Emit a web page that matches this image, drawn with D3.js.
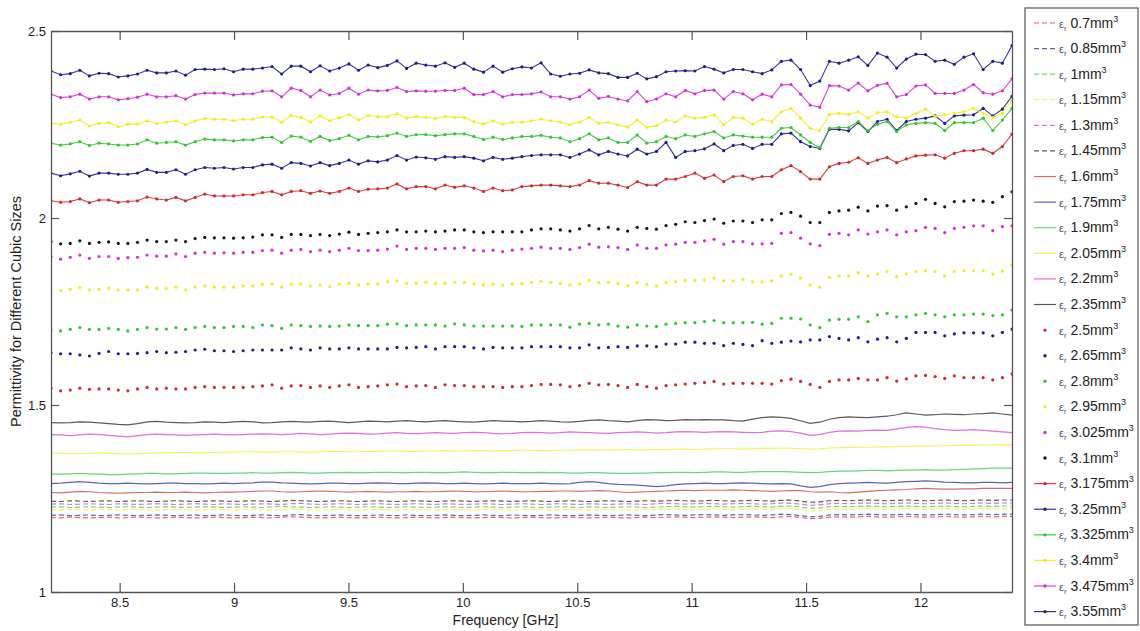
<!DOCTYPE html>
<html>
<head>
<meta charset="utf-8">
<script src="https://cdn.jsdelivr.net/npm/d3@7"></script>
<style>
  body { margin: 0; background: #fff; }
  svg { font-family: Arial, "Liberation Sans", sans-serif; }
</style>
</head>
<body>
<div id="chart"></div>
<script>
// frequency grid (101 points over the X band) and axis ticks
const freq = d3.range(101).map(i => 8.2 + i * 0.042);
const xTicks = [8.5, 9, 9.5, 10, 10.5, 11, 11.5, 12];
const yTicks = [1, 1.5, 2, 2.5];

// cube sizes, in legend order
const sizes = ['0.7','0.85','1','1.15','1.3','1.45','1.6','1.75','1.9','2.05','2.2','2.35',
               '2.5','2.65','2.8','2.95','3.025','3.1','3.175','3.25','3.325','3.4','3.475','3.55'];

// dashed lines
const er_0_7 = [
1.199,1.198,1.200,1.199,1.198,1.199,1.200,1.198,1.199,1.200,
1.199,1.198,1.199,1.200,1.199,1.198,1.199,1.200,1.199,1.198,
1.199,1.200,1.199,1.198,1.200,1.201,1.200,1.199,1.198,1.199,
1.200,1.199,1.198,1.199,1.200,1.199,1.198,1.199,1.200,1.199,
1.198,1.199,1.200,1.199,1.198,1.199,1.200,1.199,1.198,1.199,
1.200,1.199,1.198,1.199,1.200,1.199,1.198,1.199,1.200,1.199,
1.198,1.199,1.200,1.199,1.200,1.201,1.200,1.199,1.200,1.201,
1.200,1.199,1.200,1.201,1.200,1.199,1.201,1.202,1.199,1.196,
1.197,1.200,1.201,1.200,1.201,1.202,1.201,1.200,1.201,1.202,
1.201,1.200,1.201,1.202,1.201,1.200,1.201,1.202,1.201,1.202,
1.202];
const er_0_85 = [
1.205,1.206,1.204,1.205,1.206,1.204,1.205,1.206,1.205,1.204,
1.205,1.206,1.205,1.204,1.205,1.206,1.204,1.205,1.206,1.205,
1.204,1.205,1.206,1.205,1.204,1.206,1.207,1.205,1.204,1.205,
1.206,1.205,1.204,1.205,1.206,1.205,1.204,1.206,1.205,1.204,
1.205,1.206,1.205,1.204,1.205,1.206,1.205,1.204,1.206,1.205,
1.204,1.205,1.206,1.205,1.204,1.205,1.206,1.205,1.204,1.205,
1.206,1.205,1.204,1.206,1.207,1.206,1.205,1.206,1.207,1.206,
1.205,1.206,1.207,1.206,1.205,1.206,1.208,1.207,1.204,1.201,
1.202,1.206,1.207,1.206,1.207,1.208,1.207,1.206,1.207,1.208,
1.207,1.206,1.207,1.208,1.207,1.206,1.207,1.208,1.207,1.208,
1.208];
const er_1 = [
1.227,1.228,1.226,1.227,1.228,1.227,1.226,1.227,1.228,1.227,
1.226,1.227,1.228,1.227,1.226,1.227,1.228,1.227,1.226,1.227,
1.228,1.227,1.226,1.228,1.229,1.228,1.227,1.226,1.227,1.228,
1.227,1.226,1.227,1.228,1.227,1.226,1.227,1.228,1.227,1.226,
1.227,1.228,1.227,1.226,1.227,1.228,1.227,1.226,1.227,1.228,
1.227,1.226,1.227,1.228,1.227,1.226,1.228,1.227,1.226,1.227,
1.228,1.227,1.226,1.227,1.228,1.229,1.228,1.227,1.228,1.229,
1.228,1.227,1.228,1.229,1.228,1.227,1.229,1.230,1.227,1.224,
1.225,1.228,1.229,1.228,1.229,1.230,1.229,1.228,1.229,1.230,
1.229,1.228,1.229,1.230,1.229,1.228,1.229,1.230,1.229,1.230,
1.230];
const er_1_15 = [
1.220,1.219,1.221,1.220,1.219,1.220,1.221,1.219,1.220,1.221,
1.220,1.219,1.220,1.221,1.220,1.219,1.220,1.221,1.220,1.219,
1.220,1.221,1.220,1.219,1.221,1.222,1.221,1.220,1.219,1.220,
1.221,1.220,1.219,1.220,1.221,1.220,1.219,1.220,1.221,1.220,
1.219,1.220,1.221,1.220,1.219,1.220,1.221,1.220,1.219,1.220,
1.221,1.220,1.219,1.220,1.221,1.220,1.219,1.220,1.221,1.220,
1.219,1.220,1.221,1.220,1.221,1.222,1.221,1.220,1.221,1.222,
1.221,1.220,1.221,1.222,1.221,1.220,1.222,1.223,1.220,1.217,
1.218,1.221,1.222,1.221,1.222,1.223,1.222,1.221,1.222,1.223,
1.222,1.221,1.222,1.223,1.222,1.221,1.222,1.223,1.222,1.223,
1.223];
const er_1_3 = [
1.235,1.236,1.234,1.235,1.236,1.235,1.234,1.236,1.235,1.234,
1.235,1.236,1.235,1.234,1.235,1.236,1.235,1.234,1.236,1.235,
1.234,1.235,1.236,1.235,1.234,1.236,1.237,1.235,1.234,1.235,
1.236,1.235,1.234,1.235,1.236,1.235,1.234,1.235,1.236,1.235,
1.234,1.236,1.235,1.234,1.235,1.236,1.235,1.234,1.235,1.236,
1.235,1.234,1.235,1.236,1.235,1.234,1.236,1.235,1.234,1.235,
1.236,1.235,1.234,1.236,1.237,1.236,1.235,1.236,1.237,1.236,
1.235,1.236,1.237,1.236,1.235,1.236,1.238,1.237,1.235,1.232,
1.233,1.236,1.237,1.236,1.237,1.238,1.237,1.236,1.237,1.238,
1.237,1.236,1.237,1.238,1.237,1.236,1.237,1.238,1.237,1.238,
1.238];
const er_1_45 = [
1.243,1.242,1.244,1.243,1.242,1.243,1.244,1.242,1.243,1.244,
1.243,1.242,1.243,1.244,1.243,1.242,1.243,1.244,1.243,1.242,
1.243,1.244,1.243,1.242,1.243,1.245,1.244,1.243,1.242,1.243,
1.244,1.243,1.242,1.243,1.244,1.243,1.242,1.243,1.244,1.243,
1.242,1.243,1.244,1.243,1.242,1.243,1.244,1.243,1.242,1.243,
1.244,1.243,1.242,1.243,1.244,1.243,1.242,1.243,1.244,1.243,
1.242,1.243,1.244,1.243,1.244,1.245,1.244,1.243,1.244,1.245,
1.244,1.243,1.244,1.245,1.244,1.243,1.245,1.246,1.243,1.240,
1.241,1.244,1.245,1.244,1.245,1.246,1.245,1.244,1.245,1.246,
1.245,1.244,1.245,1.246,1.245,1.244,1.245,1.246,1.245,1.246,
1.246];

// solid lines
const er_1_6 = [
1.266,1.265,1.267,1.269,1.268,1.266,1.265,1.264,1.265,1.266,
1.266,1.267,1.266,1.266,1.267,1.266,1.265,1.266,1.267,1.267,
1.268,1.269,1.270,1.270,1.268,1.267,1.268,1.269,1.270,1.269,
1.268,1.267,1.268,1.269,1.268,1.267,1.268,1.268,1.269,1.268,
1.268,1.269,1.270,1.269,1.268,1.268,1.269,1.270,1.269,1.268,
1.268,1.269,1.269,1.270,1.270,1.269,1.270,1.271,1.270,1.268,
1.266,1.267,1.268,1.269,1.270,1.271,1.272,1.271,1.272,1.272,
1.272,1.273,1.272,1.271,1.270,1.269,1.270,1.271,1.271,1.268,
1.267,1.268,1.266,1.265,1.267,1.269,1.271,1.272,1.273,1.274,
1.276,1.277,1.276,1.275,1.275,1.276,1.276,1.277,1.277,1.277,
1.277];
const er_1_75 = [
1.290,1.291,1.293,1.295,1.293,1.291,1.290,1.290,1.291,1.290,
1.289,1.290,1.291,1.291,1.290,1.290,1.289,1.290,1.291,1.290,
1.291,1.292,1.294,1.294,1.292,1.291,1.290,1.289,1.290,1.291,
1.291,1.290,1.290,1.291,1.292,1.291,1.290,1.290,1.291,1.292,
1.291,1.290,1.290,1.291,1.290,1.289,1.290,1.291,1.290,1.290,
1.290,1.291,1.290,1.289,1.290,1.293,1.295,1.293,1.290,1.288,
1.287,1.286,1.284,1.282,1.284,1.287,1.289,1.290,1.291,1.290,
1.290,1.291,1.292,1.291,1.290,1.289,1.290,1.289,1.284,1.280,
1.282,1.287,1.290,1.291,1.292,1.293,1.292,1.291,1.293,1.295,
1.296,1.297,1.296,1.294,1.293,1.292,1.292,1.293,1.293,1.292,
1.293];
const er_1_9 = [
1.315,1.315,1.316,1.317,1.316,1.315,1.314,1.314,1.315,1.316,
1.317,1.317,1.316,1.316,1.317,1.318,1.318,1.317,1.317,1.318,
1.318,1.319,1.318,1.318,1.319,1.320,1.319,1.318,1.318,1.319,
1.319,1.320,1.319,1.319,1.320,1.320,1.319,1.319,1.320,1.320,
1.319,1.319,1.320,1.321,1.320,1.319,1.319,1.320,1.320,1.319,
1.319,1.320,1.319,1.319,1.318,1.318,1.319,1.319,1.318,1.317,
1.317,1.318,1.318,1.319,1.319,1.320,1.320,1.319,1.320,1.321,
1.321,1.320,1.320,1.321,1.322,1.322,1.322,1.321,1.320,1.319,
1.320,1.322,1.323,1.323,1.324,1.325,1.325,1.324,1.325,1.326,
1.326,1.327,1.326,1.326,1.327,1.328,1.329,1.330,1.331,1.331,
1.331];
const er_2_05 = [
1.371,1.371,1.370,1.370,1.371,1.372,1.371,1.370,1.369,1.370,
1.371,1.372,1.372,1.373,1.373,1.372,1.372,1.373,1.374,1.374,
1.375,1.375,1.374,1.374,1.375,1.375,1.374,1.374,1.375,1.376,
1.376,1.375,1.375,1.376,1.376,1.377,1.377,1.376,1.376,1.377,
1.377,1.378,1.377,1.377,1.378,1.378,1.377,1.378,1.378,1.379,
1.379,1.378,1.378,1.379,1.379,1.380,1.380,1.379,1.380,1.380,
1.381,1.380,1.380,1.381,1.381,1.382,1.382,1.381,1.382,1.383,
1.383,1.383,1.382,1.383,1.384,1.384,1.385,1.384,1.383,1.382,
1.383,1.385,1.386,1.386,1.387,1.387,1.388,1.388,1.389,1.389,
1.390,1.390,1.391,1.391,1.392,1.392,1.392,1.393,1.393,1.394,
1.394];
const er_2_2 = [
1.421,1.420,1.418,1.420,1.422,1.421,1.419,1.417,1.415,1.418,
1.421,1.422,1.421,1.420,1.419,1.420,1.421,1.422,1.421,1.420,
1.421,1.422,1.423,1.422,1.421,1.422,1.424,1.423,1.421,1.422,
1.424,1.425,1.424,1.422,1.423,1.425,1.426,1.424,1.423,1.425,
1.426,1.425,1.424,1.426,1.427,1.426,1.424,1.423,1.424,1.426,
1.427,1.426,1.425,1.426,1.428,1.427,1.426,1.425,1.424,1.426,
1.427,1.428,1.427,1.425,1.426,1.428,1.429,1.428,1.427,1.428,
1.429,1.428,1.427,1.426,1.427,1.430,1.431,1.429,1.425,1.419,
1.421,1.427,1.430,1.431,1.430,1.432,1.433,1.432,1.436,1.440,
1.442,1.441,1.437,1.434,1.432,1.433,1.434,1.432,1.430,1.428,
1.426];
const er_2_35 = [
1.453,1.452,1.453,1.455,1.454,1.452,1.450,1.448,1.447,1.450,
1.455,1.456,1.454,1.453,1.452,1.453,1.455,1.454,1.453,1.455,
1.456,1.455,1.452,1.453,1.455,1.456,1.455,1.454,1.456,1.457,
1.455,1.453,1.455,1.457,1.456,1.455,1.457,1.458,1.456,1.455,
1.457,1.458,1.456,1.455,1.454,1.456,1.458,1.457,1.456,1.455,
1.456,1.458,1.457,1.455,1.454,1.456,1.459,1.460,1.458,1.457,
1.455,1.458,1.461,1.460,1.458,1.459,1.461,1.460,1.461,1.460,
1.460,1.458,1.457,1.462,1.466,1.468,1.467,1.464,1.458,1.451,
1.454,1.462,1.466,1.468,1.467,1.466,1.468,1.470,1.474,1.479,
1.476,1.473,1.474,1.476,1.475,1.474,1.476,1.477,1.479,1.476,
1.473];

// point markers only
const er_2_5 = [
1.545,1.538,1.540,1.545,1.542,1.543,1.543,1.540,1.538,1.543,
1.547,1.543,1.545,1.543,1.543,1.547,1.549,1.547,1.547,1.547,
1.547,1.549,1.551,1.554,1.545,1.551,1.552,1.547,1.551,1.547,
1.551,1.554,1.547,1.549,1.551,1.554,1.556,1.549,1.551,1.552,
1.547,1.554,1.552,1.552,1.549,1.549,1.549,1.547,1.549,1.549,
1.552,1.555,1.555,1.554,1.549,1.552,1.558,1.554,1.555,1.552,
1.547,1.555,1.549,1.545,1.552,1.554,1.556,1.558,1.560,1.563,
1.556,1.558,1.558,1.558,1.558,1.556,1.565,1.569,1.563,1.555,
1.547,1.563,1.567,1.567,1.571,1.567,1.567,1.573,1.564,1.570,
1.578,1.579,1.576,1.571,1.578,1.573,1.573,1.573,1.567,1.573,
1.583];
const er_2_65 = [
1.640,1.637,1.637,1.634,1.631,1.638,1.643,1.637,1.637,1.638,
1.640,1.643,1.640,1.641,1.643,1.647,1.649,1.645,1.645,1.643,
1.645,1.647,1.647,1.647,1.647,1.653,1.650,1.647,1.653,1.650,
1.650,1.653,1.650,1.650,1.650,1.650,1.654,1.653,1.654,1.656,
1.650,1.656,1.656,1.656,1.653,1.650,1.654,1.653,1.653,1.653,
1.656,1.656,1.656,1.656,1.653,1.653,1.661,1.653,1.654,1.656,
1.654,1.658,1.658,1.656,1.663,1.663,1.668,1.668,1.665,1.665,
1.659,1.665,1.662,1.659,1.672,1.665,1.668,1.671,1.669,1.674,
1.674,1.683,1.678,1.674,1.680,1.669,1.676,1.680,1.669,1.678,
1.694,1.694,1.694,1.685,1.690,1.693,1.693,1.693,1.685,1.694,
1.703];
const er_2_8 = [
1.701,1.698,1.702,1.707,1.702,1.702,1.705,1.702,1.698,1.702,
1.707,1.703,1.703,1.707,1.702,1.707,1.710,1.707,1.707,1.710,
1.710,1.707,1.714,1.712,1.705,1.714,1.712,1.710,1.711,1.710,
1.711,1.714,1.712,1.712,1.712,1.716,1.717,1.712,1.714,1.714,
1.714,1.711,1.717,1.714,1.711,1.711,1.711,1.711,1.711,1.710,
1.714,1.714,1.714,1.714,1.708,1.716,1.718,1.714,1.716,1.711,
1.708,1.714,1.711,1.710,1.716,1.718,1.720,1.720,1.723,1.726,
1.720,1.720,1.720,1.721,1.716,1.718,1.732,1.732,1.730,1.714,
1.707,1.727,1.729,1.729,1.736,1.723,1.741,1.745,1.736,1.736,
1.741,1.745,1.741,1.736,1.741,1.741,1.743,1.743,1.739,1.741,
1.754];
const er_2_95 = [
1.806,1.806,1.809,1.814,1.808,1.809,1.812,1.808,1.808,1.808,
1.815,1.812,1.812,1.815,1.808,1.815,1.818,1.815,1.815,1.815,
1.818,1.818,1.823,1.823,1.815,1.823,1.823,1.818,1.821,1.816,
1.823,1.825,1.821,1.823,1.824,1.830,1.832,1.825,1.825,1.828,
1.825,1.825,1.828,1.828,1.824,1.821,1.823,1.821,1.823,1.825,
1.828,1.830,1.828,1.825,1.821,1.823,1.833,1.827,1.828,1.825,
1.819,1.827,1.823,1.818,1.827,1.830,1.833,1.833,1.834,1.839,
1.832,1.832,1.836,1.830,1.830,1.832,1.845,1.849,1.839,1.821,
1.815,1.841,1.845,1.845,1.854,1.845,1.850,1.857,1.843,1.850,
1.857,1.859,1.857,1.845,1.857,1.859,1.859,1.859,1.850,1.858,
1.874];
const er_3_025 = [
1.897,1.890,1.895,1.901,1.892,1.897,1.897,1.892,1.894,1.895,
1.901,1.898,1.898,1.904,1.897,1.906,1.908,1.906,1.907,1.906,
1.908,1.908,1.913,1.914,1.906,1.914,1.916,1.910,1.914,1.910,
1.914,1.919,1.913,1.913,1.914,1.917,1.925,1.916,1.919,1.919,
1.916,1.919,1.919,1.921,1.914,1.912,1.914,1.910,1.914,1.917,
1.919,1.922,1.919,1.919,1.916,1.921,1.930,1.922,1.923,1.921,
1.916,1.928,1.919,1.919,1.928,1.930,1.935,1.935,1.939,1.943,
1.930,1.937,1.937,1.931,1.931,1.932,1.959,1.961,1.946,1.931,
1.926,1.956,1.959,1.955,1.968,1.957,1.963,1.968,1.955,1.963,
1.966,1.975,1.972,1.961,1.972,1.975,1.979,1.979,1.966,1.977,
1.979];
const er_3_1 = [
1.937,1.931,1.932,1.939,1.932,1.935,1.936,1.932,1.932,1.935,
1.941,1.937,1.937,1.941,1.937,1.945,1.948,1.947,1.947,1.946,
1.947,1.949,1.955,1.955,1.948,1.956,1.956,1.953,1.956,1.953,
1.957,1.962,1.956,1.959,1.961,1.963,1.968,1.963,1.963,1.965,
1.963,1.965,1.968,1.968,1.963,1.961,1.963,1.963,1.963,1.963,
1.968,1.971,1.971,1.968,1.965,1.971,1.980,1.971,1.975,1.970,
1.965,1.975,1.972,1.970,1.980,1.983,1.990,1.988,1.993,1.997,
1.986,1.992,1.992,1.988,1.995,1.995,2.012,2.015,2.005,1.988,
1.988,2.015,2.019,2.021,2.029,2.019,2.032,2.033,2.021,2.030,
2.039,2.050,2.039,2.030,2.044,2.045,2.048,2.045,2.042,2.057,
2.070];

// lines with point markers
const er_3_175 = [
2.046,2.042,2.044,2.051,2.041,2.048,2.048,2.042,2.044,2.046,
2.056,2.051,2.048,2.055,2.046,2.055,2.064,2.059,2.059,2.059,
2.062,2.062,2.068,2.071,2.062,2.071,2.073,2.066,2.072,2.066,
2.071,2.080,2.071,2.077,2.078,2.080,2.091,2.078,2.084,2.084,
2.078,2.088,2.082,2.086,2.080,2.071,2.080,2.073,2.075,2.084,
2.086,2.088,2.088,2.086,2.084,2.088,2.100,2.093,2.093,2.088,
2.081,2.097,2.088,2.088,2.104,2.104,2.111,2.120,2.106,2.115,
2.097,2.111,2.113,2.104,2.111,2.111,2.129,2.140,2.124,2.104,
2.104,2.137,2.146,2.149,2.161,2.146,2.155,2.162,2.148,2.158,
2.166,2.168,2.169,2.160,2.173,2.180,2.180,2.184,2.173,2.191,
2.224];
const er_3_25 = [
2.120,2.113,2.118,2.125,2.112,2.120,2.120,2.117,2.117,2.120,
2.130,2.122,2.122,2.129,2.117,2.129,2.135,2.133,2.135,2.131,
2.135,2.135,2.142,2.144,2.133,2.148,2.146,2.139,2.148,2.140,
2.146,2.155,2.144,2.153,2.150,2.155,2.167,2.155,2.163,2.161,
2.157,2.164,2.162,2.164,2.160,2.153,2.162,2.157,2.160,2.164,
2.167,2.169,2.169,2.169,2.162,2.171,2.182,2.169,2.178,2.171,
2.166,2.184,2.171,2.178,2.202,2.162,2.178,2.180,2.185,2.198,
2.180,2.194,2.197,2.186,2.197,2.197,2.225,2.227,2.204,2.191,
2.186,2.237,2.237,2.233,2.255,2.231,2.258,2.264,2.234,2.258,
2.264,2.267,2.273,2.253,2.273,2.275,2.276,2.293,2.273,2.291,
2.325];
const er_3_325 = [
2.200,2.195,2.198,2.204,2.194,2.200,2.198,2.195,2.195,2.198,
2.209,2.200,2.202,2.204,2.195,2.204,2.211,2.209,2.209,2.206,
2.209,2.209,2.215,2.216,2.202,2.219,2.216,2.205,2.218,2.207,
2.212,2.221,2.209,2.218,2.217,2.220,2.227,2.218,2.223,2.223,
2.220,2.223,2.225,2.225,2.218,2.210,2.216,2.210,2.214,2.218,
2.218,2.221,2.216,2.214,2.204,2.212,2.225,2.209,2.214,2.202,
2.202,2.222,2.200,2.204,2.218,2.212,2.222,2.218,2.225,2.231,
2.214,2.222,2.219,2.216,2.216,2.216,2.240,2.242,2.222,2.202,
2.188,2.240,2.242,2.242,2.258,2.233,2.251,2.258,2.231,2.249,
2.253,2.255,2.253,2.234,2.255,2.255,2.255,2.267,2.234,2.262,
2.293];
const er_3_4 = [
2.253,2.251,2.256,2.262,2.246,2.253,2.255,2.244,2.251,2.251,
2.260,2.253,2.256,2.260,2.249,2.260,2.266,2.264,2.264,2.260,
2.264,2.264,2.270,2.270,2.256,2.274,2.269,2.257,2.273,2.260,
2.268,2.276,2.262,2.274,2.271,2.271,2.279,2.267,2.271,2.269,
2.266,2.271,2.269,2.269,2.258,2.251,2.260,2.251,2.256,2.256,
2.260,2.264,2.260,2.256,2.249,2.256,2.269,2.253,2.256,2.249,
2.243,2.262,2.243,2.247,2.262,2.256,2.273,2.267,2.269,2.276,
2.249,2.269,2.267,2.251,2.264,2.258,2.284,2.293,2.267,2.240,
2.234,2.277,2.280,2.277,2.284,2.267,2.282,2.284,2.271,2.267,
2.280,2.291,2.271,2.276,2.280,2.284,2.293,2.280,2.269,2.280,
2.316];
const er_3_475 = [
2.331,2.322,2.324,2.331,2.318,2.324,2.324,2.316,2.319,2.323,
2.331,2.324,2.324,2.327,2.318,2.330,2.334,2.334,2.334,2.329,
2.332,2.332,2.339,2.340,2.324,2.347,2.341,2.324,2.342,2.329,
2.333,2.347,2.331,2.342,2.340,2.341,2.349,2.338,2.340,2.339,
2.339,2.341,2.341,2.347,2.330,2.330,2.338,2.324,2.330,2.330,
2.332,2.337,2.324,2.324,2.318,2.324,2.342,2.320,2.325,2.318,
2.313,2.338,2.311,2.318,2.332,2.324,2.341,2.332,2.341,2.342,
2.318,2.338,2.332,2.316,2.331,2.324,2.356,2.357,2.331,2.302,
2.296,2.354,2.353,2.342,2.361,2.340,2.355,2.360,2.324,2.330,
2.353,2.356,2.333,2.333,2.333,2.342,2.357,2.335,2.331,2.340,
2.372];
const er_3_55 = [
2.393,2.383,2.386,2.395,2.380,2.387,2.386,2.377,2.380,2.385,
2.395,2.388,2.388,2.393,2.382,2.397,2.398,2.397,2.399,2.391,
2.398,2.398,2.401,2.405,2.385,2.406,2.406,2.391,2.407,2.393,
2.401,2.412,2.395,2.409,2.402,2.408,2.420,2.400,2.414,2.409,
2.406,2.415,2.403,2.414,2.398,2.390,2.406,2.390,2.399,2.404,
2.401,2.415,2.385,2.379,2.385,2.387,2.396,2.388,2.386,2.376,
2.376,2.387,2.372,2.378,2.391,2.393,2.394,2.393,2.405,2.398,
2.388,2.397,2.397,2.391,2.386,2.396,2.419,2.422,2.397,2.354,
2.366,2.419,2.414,2.422,2.431,2.408,2.441,2.430,2.401,2.425,
2.438,2.437,2.419,2.422,2.411,2.430,2.439,2.397,2.419,2.414,
2.461];

const seriesValues = [er_0_7, er_0_85, er_1, er_1_15, er_1_3, er_1_45,
                      er_1_6, er_1_75, er_1_9, er_2_05, er_2_2, er_2_35,
                      er_2_5, er_2_65, er_2_8, er_2_95, er_3_025, er_3_1,
                      er_3_175, er_3_25, er_3_325, er_3_4, er_3_475, er_3_55];

// MATLAB style colour cycle r b g y m k
const palette = {r: '#cc2b2b', b: '#1f1f8c', g: '#35c235', y: '#eeee1c', m: '#cc35cc', k: '#151515'};
const colorKeys = ['r','b','g','y','m','k', 'r','b','g','y','m','k',
                   'r','b','g','y','m','k', 'r','b','g','y','m','b'];
const lineKinds = ['dash','line','dot','lineDot'];

const series = sizes.map((s, i) => ({
  size: s,
  values: seriesValues[i],
  color: palette[colorKeys[i]],
  kind: lineKinds[Math.floor(i / 6)]
}));

const width = 1140, height = 631;
const plot = {left: 51, top: 31, right: 1012, bottom: 592};

const svg = d3.select('#chart').append('svg')
  .attr('width', width).attr('height', height);

const xScale = d3.scaleLinear().domain([8.2, 12.4]).range([plot.left, plot.right]);
const yScale = d3.scaleLinear().domain([1, 2.5]).range([plot.bottom, plot.top]);

svg.append('clipPath').attr('id', 'clip')
  .append('rect')
  .attr('x', plot.left).attr('y', plot.top)
  .attr('width', plot.right - plot.left).attr('height', plot.bottom - plot.top);

const line = d3.line()
  .x((d, i) => xScale(freq[i]))
  .y(d => yScale(d));

const marks = svg.append('g').attr('clip-path', 'url(#clip)');

series.forEach(s => {
  if (s.kind !== 'dot') {
    marks.append('path')
      .datum(s.values)
      .attr('d', line)
      .attr('fill', 'none')
      .attr('stroke', s.color)
      .attr('stroke-width', s.kind === 'lineDot' ? 1.1 : 1.2)
      .attr('stroke-opacity', s.kind === 'lineDot' ? 0.9 : 0.7)
      .attr('stroke-dasharray', s.kind === 'dash' ? '5,3' : null);
  }
  if (s.kind === 'dot' || s.kind === 'lineDot') {
    marks.append('g')
      .selectAll('circle')
      .data(s.values)
      .join('circle')
        .attr('cx', (d, i) => xScale(freq[i]))
        .attr('cy', d => yScale(d))
        .attr('r', 1.6)
        .attr('fill', s.color);
  }
});

// axes with inward ticks on all four sides (box)
const axisColor = '#555';
const xAxis = svg.append('g')
  .attr('transform', `translate(0,${plot.bottom})`)
  .call(d3.axisBottom(xScale).tickValues(xTicks).tickFormat(d => d)
        .tickSizeInner(-9).tickSizeOuter(0).tickPadding(6));
const xTop = svg.append('g')
  .attr('transform', `translate(0,${plot.top})`)
  .call(d3.axisTop(xScale).tickValues(xTicks).tickFormat('')
        .tickSizeInner(-9).tickSizeOuter(0));
const yAxis = svg.append('g')
  .attr('transform', `translate(${plot.left},0)`)
  .call(d3.axisLeft(yScale).tickValues(yTicks).tickFormat(d => d)
        .tickSizeInner(-8).tickSizeOuter(0).tickPadding(5));
const yRight = svg.append('g')
  .attr('transform', `translate(${plot.right},0)`)
  .call(d3.axisRight(yScale).tickValues(yTicks).tickFormat('')
        .tickSizeInner(-8).tickSizeOuter(0));

[xAxis, xTop, yAxis, yRight].forEach(a => {
  a.select('.domain').attr('stroke', axisColor).attr('stroke-width', 1.3);
  a.selectAll('.tick line').attr('stroke', axisColor).attr('stroke-width', 1.2);
  a.selectAll('.tick text')
    .attr('fill', '#222')
    .attr('font-size', 13)
    .attr('font-family', 'Arial, "Liberation Sans", sans-serif');
});

// axis titles
svg.append('text')
  .attr('x', (plot.left + plot.right) / 2 - 26)
  .attr('y', 625)
  .attr('text-anchor', 'middle')
  .attr('font-size', 14)
  .attr('fill', '#222')
  .text('Frequency [GHz]');

svg.append('text')
  .attr('transform', `translate(21,${(plot.top + plot.bottom) / 2 + 0}) rotate(-90)`)
  .attr('text-anchor', 'middle')
  .attr('font-size', 14.5)
  .attr('fill', '#222')
  .text('Permittivity for Different Cubic Sizes');

// legend
const legendBox = {x: 1025, y: 8, w: 113, h: 617};
const legend = svg.append('g');
legend.append('rect')
  .attr('x', legendBox.x).attr('y', legendBox.y)
  .attr('width', legendBox.w).attr('height', legendBox.h)
  .attr('fill', '#fff').attr('stroke', '#555').attr('stroke-width', 1.2);

const rowY = d3.scalePoint().domain(sizes).range([23, 611.6]);

series.forEach(s => {
  const y = rowY(s.size);
  const row = legend.append('g');
  if (s.kind !== 'dot') {
    row.append('line')
      .attr('x1', 1034).attr('x2', 1056).attr('y1', y).attr('y2', y)
      .attr('stroke', s.color)
      .attr('stroke-width', 1.2)
      .attr('stroke-opacity', s.kind === 'lineDot' ? 0.9 : 0.7)
      .attr('stroke-dasharray', s.kind === 'dash' ? '5,3' : null);
  }
  if (s.kind === 'dot' || s.kind === 'lineDot') {
    row.append('circle').attr('cx', 1045).attr('cy', y).attr('r', 1.7).attr('fill', s.color);
  }
  const t = row.append('text')
    .attr('x', 1059).attr('y', y + 4.5)
    .attr('font-size', 14).attr('fill', '#222');
  t.append('tspan').text('ε').attr('font-size', 11).attr('fill', '#555');
  t.append('tspan').text('r').attr('font-size', 8).attr('dy', 3).attr('fill', '#555');
  t.append('tspan').text(' ' + s.size + 'mm').attr('dy', -3);
  t.append('tspan').text('3').attr('font-size', 9).attr('dy', -6);
});
</script>
</body>
</html>
